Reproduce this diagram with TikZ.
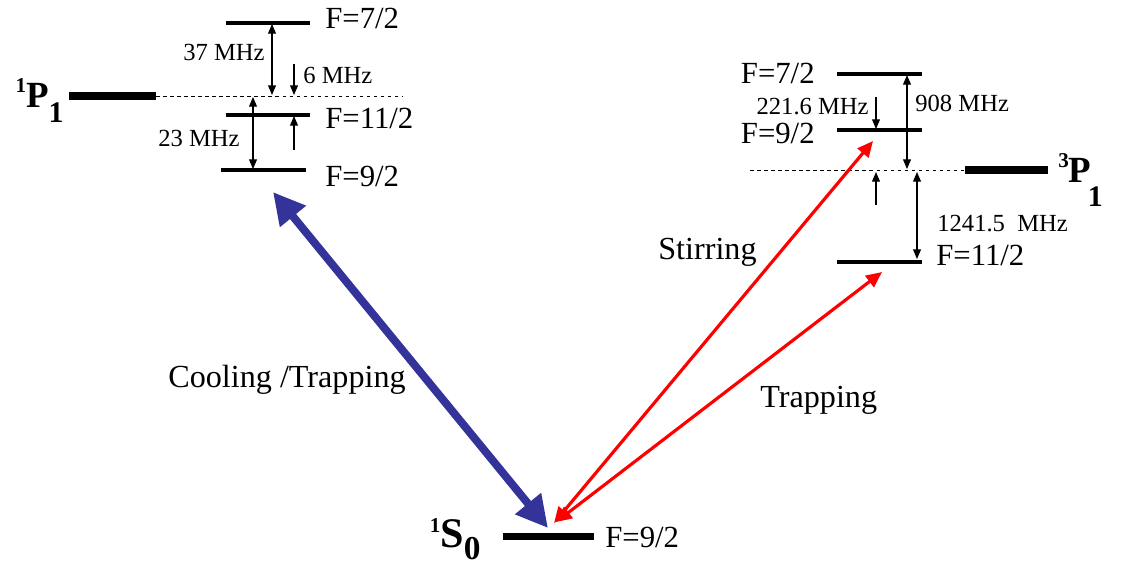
\documentclass[tikz,border=0pt]{standalone}
\usepackage{fontspec}
\setmainfont{Liberation Serif}
\usetikzlibrary{arrows.meta}
\definecolor{coolBlue}{RGB}{51, 51, 153}
\definecolor{trapRed}{RGB}{255, 0, 0}
\newcommand{\termsym}[5][17]{\textbf{\raisebox{8.5pt}{\fontsize{12}{12}\selectfont #3}#4\raisebox{-#2}{\fontsize{#1}{#1}\selectfont #5}}}

\begin{document}
\begin{tikzpicture}[
  x=0.02cm,y=-0.02cm,
  level/.style={line width=2.8pt},
  mainlevel/.style={line width=4pt},
  hfs/.style={inner sep=0pt,font=\fontsize{17.5}{20}\selectfont},
  freq/.style={inner sep=0pt,font=\fontsize{14}{16}\selectfont},
  term/.style={inner sep=0pt,font=\fontsize{21}{24}\selectfont},
  beam/.style={inner sep=0pt,font=\fontsize{18.3}{21}\selectfont},
  gap/.style={line width=0.6pt,{Triangle[length=5.5pt,width=4.5pt]}-{Triangle[length=5.5pt,width=4.5pt]}},
  hfshift/.style={line width=0.6pt,-{Triangle[length=5.5pt,width=4.5pt]}},
  coolbeam/.style={coolBlue,line width=4.5pt,{Triangle[length=18pt,width=18pt]}-{Triangle[length=18pt,width=18pt]}},
  redbeam/.style={trapRed,line width=1.8pt,{Triangle[length=9pt,width=8pt]}-{Triangle[length=9pt,width=8pt]}}
]
  \useasboundingbox (0,0) rectangle (1122,566);

  % 1P1 and its hyperfine levels
  \coordinate (p1l) at (69,96);
  \coordinate (p1r) at (156,96);
  \coordinate (p1d) at (403,96);
  \draw[mainlevel] (p1l) -- (p1r);
  \draw[line width=0.5pt,dash pattern=on 2pt off 2pt] (p1r) -- (p1d);
  \node[term,anchor=base east] (p1) at (64,107) {\termsym{9pt}{1}{P}{1}};

  \coordinate (pa7l) at (226,23);
  \coordinate (pa7r) at (310,23);
  \draw[level] (pa7l) -- (pa7r);
  \node[hfs,anchor=west] (pa7) at (325,18) {F=7/2};
  \coordinate (pa11l) at (226,115);
  \coordinate (pa11r) at (310,115);
  \draw[level] (pa11l) -- (pa11r);
  \node[hfs,anchor=west] (pa11) at (325,118) {F=11/2};
  \coordinate (pa9l) at (221,170);
  \coordinate (pa9r) at (306,170);
  \draw[level] (pa9l) -- (pa9r);
  \node[hfs,anchor=west] (pa9) at (325,176) {F=9/2};

  \coordinate (g37a) at (272,24);
  \coordinate (g37b) at (272,95);
  \draw[gap] (g37a) -- (g37b);
  \node[freq,anchor=east] (f37) at (265,52) {37 MHz};
  \coordinate (s6a) at (294,64);
  \coordinate (s6b) at (294,95);
  \draw[hfshift] (s6a) -- (s6b);
  \node[freq,anchor=west] (f6) at (303,75) {6 MHz};
  \coordinate (g23a) at (253,97);
  \coordinate (g23b) at (253,169);
  \draw[gap] (g23a) -- (g23b);
  \node[freq,anchor=east] (f23) at (240,138) {23 MHz};
  \coordinate (s6c) at (294,150);
  \coordinate (s6d) at (294,116);
  \draw[hfshift] (s6c) -- (s6d);

  % 3P1 and its hyperfine levels
  \coordinate (t1d) at (750,170);
  \coordinate (t1l) at (965,170);
  \coordinate (t1r) at (1048,170);
  \draw[mainlevel] (t1l) -- (t1r);
  \draw[line width=0.5pt,dash pattern=on 2pt off 2pt] (t1d) -- (t1l);
  \node[term,anchor=base west] (t1) at (1058,182) {\termsym{14pt}{3}{P}{\kern-2pt 1}};

  \coordinate (ta7l) at (837,74);
  \coordinate (ta7r) at (922,74);
  \draw[level] (ta7l) -- (ta7r);
  \node[hfs,anchor=east] (ta7) at (815,73) {F=7/2};
  \coordinate (ta9l) at (837,130);
  \coordinate (ta9r) at (922,130);
  \draw[level] (ta9l) -- (ta9r);
  \node[hfs,anchor=east] (ta9) at (815,133) {F=9/2};
  \coordinate (ta11l) at (837,262);
  \coordinate (ta11r) at (922,262);
  \draw[level] (ta11l) -- (ta11r);
  \node[hfs,anchor=west] (ta11) at (936,255) {F=11/2};

  \coordinate (g908a) at (907,75);
  \coordinate (g908b) at (907,169);
  \draw[gap] (g908a) -- (g908b);
  \node[freq,anchor=west] (f908) at (915,103) {908 MHz};
  \coordinate (s221a) at (876,97);
  \coordinate (s221b) at (876,129);
  \draw[hfshift] (s221a) -- (s221b);
  \node[freq,anchor=east] (f221) at (869,107) {221.6 MHz};
  \coordinate (s221c) at (876,205);
  \coordinate (s221d) at (876,172);
  \draw[hfshift] (s221c) -- (s221d);
  \coordinate (g1241a) at (917,172);
  \coordinate (g1241b) at (917,259);
  \draw[gap] (g1241a) -- (g1241b);
  \node[freq,anchor=west] (f1241) at (937,224) {1241.5\ \ MHz};

  % ground state
  \coordinate (s0l) at (503,536);
  \coordinate (s0r) at (594,536);
  \draw[mainlevel] (s0l) -- (s0r);
  \node[term,font=\fontsize{24}{26}\selectfont,anchor=base east] (s0) at (481,547)
    {\termsym[19]{7pt}{1}{S}{0}};
  \node[hfs,anchor=west] (s09) at (605,537) {F=9/2};

  % laser transitions
  \coordinate (cool1) at (273,192);
  \coordinate (cool2) at (548,528);
  \draw[coolbeam] (cool1) -- (cool2);
  \node[beam,anchor=west] (coolText) at (168,380) {Cooling /Trapping};
  \coordinate (stir1) at (554,523);
  \coordinate (stir2) at (873,141);
  \draw[redbeam] (stir1) -- (stir2);
  \node[beam,anchor=west] (stirText) at (658,252) {Stirring};
  \coordinate (trap1) at (556,522);
  \coordinate (trap2) at (882,272);
  \draw[redbeam] (trap1) -- (trap2);
  \node[beam,anchor=west] (trapText) at (760,400) {Trapping};
\end{tikzpicture}
\end{document}
